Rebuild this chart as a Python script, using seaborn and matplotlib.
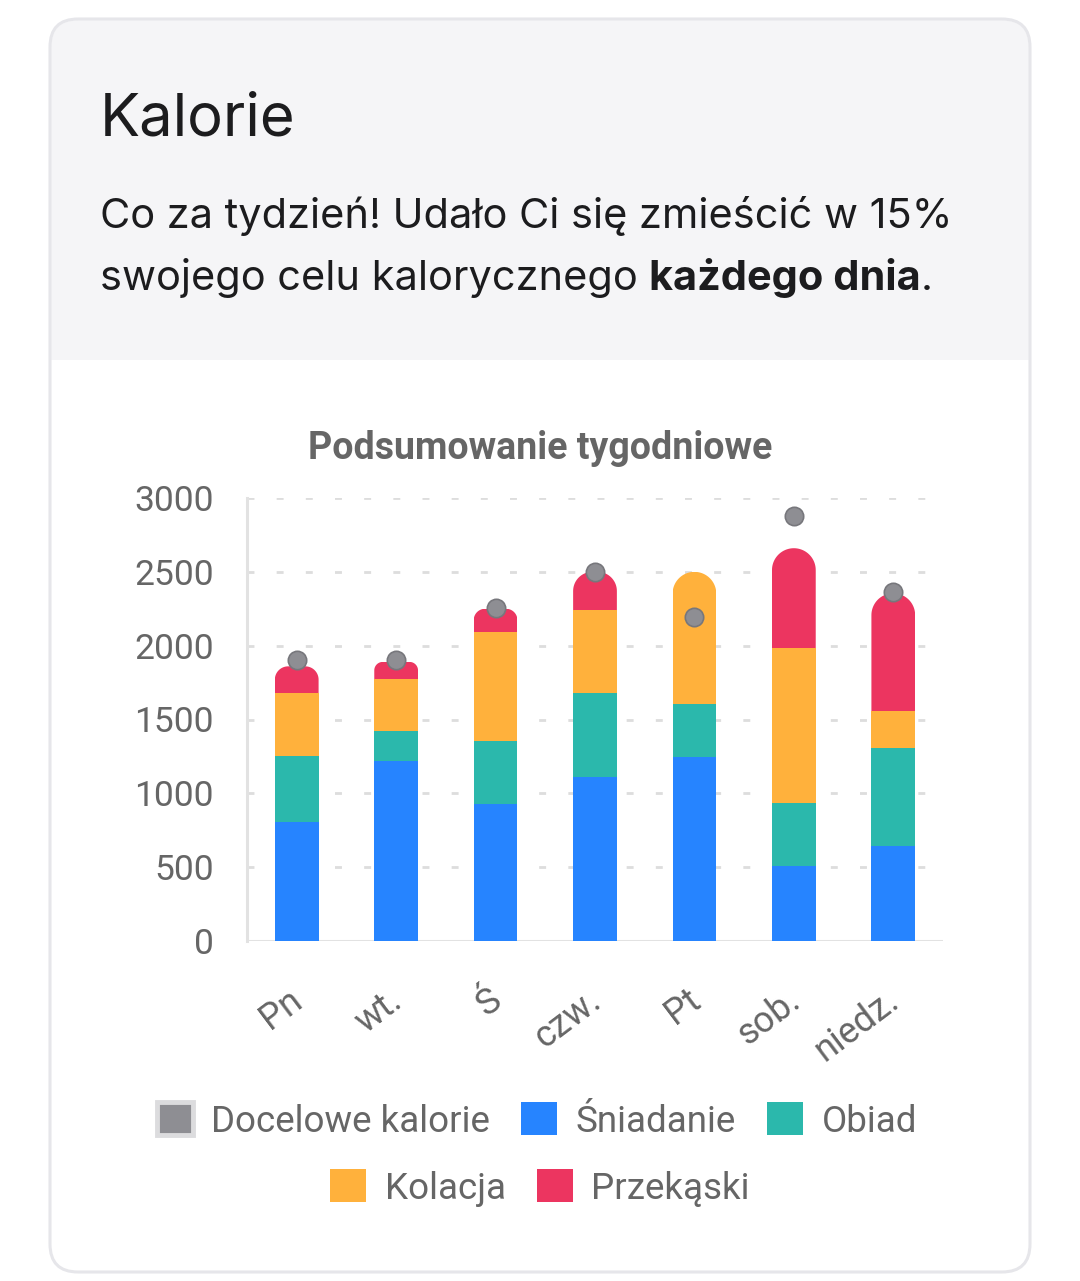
import numpy as np
import matplotlib
matplotlib.use("Agg")
import matplotlib.pyplot as plt
import seaborn as sns
from matplotlib.patches import FancyBboxPatch, Rectangle, Patch
from matplotlib.path import Path
from matplotlib.transforms import IdentityTransform, ScaledTranslation

# ---------------- data ----------------
days = ["Pn", "wt.", "Ś", "czw.", "Pt", "sob.", "niedz."]
sniadanie = [805, 1220, 930, 1110, 1245, 510, 640]
obiad = [450, 200, 425, 570, 360, 425, 670]
kolacja = [425, 355, 740, 560, 895, 1050, 245]
przekaski = [180, 115, 155, 260, 0, 675, 800]
docelowe = [1900, 1900, 2255, 2500, 2195, 2875, 2365]
yticks = [0, 500, 1000, 1500, 2000, 2500, 3000]

series_names = ["Śniadanie", "Obiad", "Kolacja", "Przekąski"]
series_vals = [sniadanie, obiad, kolacja, przekaski]
series_cols = ["#2684FF", "#2BB8AC", "#FFB13C", "#EC3560"]
target_col = "#8E8E93"

W, H = 1080, 1281
DPI = 100

sns.set_theme(style="white")
plt.rcParams["font.family"] = ["Roboto", "DejaVu Sans"]

fig = plt.figure(figsize=(W / DPI, H / DPI), dpi=DPI)
fig.patch.set_facecolor("white")

# ---------------- background card (pixel coordinates) ----------------
bg = fig.add_axes([0, 0, 1, 1], zorder=0)
bg.set_xlim(0, W)
bg.set_ylim(H, 0)
bg.axis("off")

header = FancyBboxPatch((51, 20), 978, 340, boxstyle="round,pad=0,rounding_size=28",
                        facecolor="#F5F5F7", edgecolor="none")
bg.add_patch(header)
bg.add_patch(Rectangle((51, 320), 978, 40, facecolor="#F5F5F7", edgecolor="none"))
card = FancyBboxPatch((50, 19), 980, 1253, boxstyle="round,pad=0,rounding_size=28",
                      facecolor="none", edgecolor="#E6E6EA", linewidth=2.2)
bg.add_patch(card)

hfont = ["Inter", "DejaVu Sans"]
sub_fs = 29.9
bg.text(100, 136, "Kalorie", fontsize=43, family=hfont, color="#1C1C1E", va="baseline", ha="left")
bg.text(100, 228, "Co za tydzień! Udało Ci się zmieścić w 15%", fontsize=sub_fs, family=hfont,
        color="#1C1C1E", va="baseline", ha="left")
renderer = fig.canvas.get_renderer()
t1 = bg.text(100, 290, "swojego celu kalorycznego ", fontsize=sub_fs, family=hfont,
             color="#1C1C1E", va="baseline", ha="left")
bb1 = t1.get_window_extent(renderer)
x2 = 100 + bb1.width
t2 = bg.text(x2, 290, "każdego dnia", fontsize=sub_fs, family=hfont, fontweight="bold",
             color="#1C1C1E", va="baseline", ha="left")
bb2 = t2.get_window_extent(renderer)
bg.text(x2 + bb2.width, 290, ".", fontsize=sub_fs, family=hfont,
        color="#1C1C1E", va="baseline", ha="left")

# chart title
bg.text(540, 459, "Podsumowanie tygodniowe", fontsize=27, fontweight="bold", color="#666666",
        va="baseline", ha="center")

# ---------------- chart ----------------
left, right = 247 / W, 943 / W
bottom, top = (H - 941) / H, (H - 498) / H
ax = fig.add_axes([left, bottom, right - left, top - bottom], zorder=1)
ax.patch.set_alpha(0)

x = np.arange(len(days))
bar_w = 0.44
cum = np.zeros(len(days))
bars_by_series = []
for name, vals, col in zip(series_names, series_vals, series_cols):
    vals = np.array(vals, dtype=float)
    bc = ax.bar(x, vals, bottom=cum, width=bar_w, color=col, linewidth=0, zorder=3, label=name)
    bars_by_series.append((bc, vals))
    cum = cum + vals

ax.set_xlim(-0.5, len(days) - 0.5)
ax.set_ylim(0, 3000)

# target dots
sns.scatterplot(x=x, y=docelowe, ax=ax, s=175, color=target_col, edgecolor="#77777C",
                linewidth=1.2, zorder=6, legend=False)

# grid / spines
ax.set_yticks(yticks)
ax.set_yticklabels([str(v) for v in yticks])
for v in yticks[1:]:
    ax.axhline(v, color="#DDDDDD", linewidth=2, linestyle=(0, (2.5, 8)), zorder=1)
ax.axhline(0, color="#E2E2E2", linewidth=2.2, zorder=2)
for s in ["top", "right", "bottom"]:
    ax.spines[s].set_visible(False)
ax.spines["left"].set_color("#E2E2E2")
ax.spines["left"].set_linewidth(2.2)
ax.tick_params(axis="y", length=17, width=1.6, color="#E2E2E2", pad=7,
               labelsize=25.5, labelcolor="#666666")
ax.tick_params(axis="x", length=0, pad=40, labelsize=26, labelcolor="#666666")
ax.set_xticks(x)
ax.set_xticklabels(days, rotation=37, ha="right", rotation_mode="anchor", va="center")
offset = ScaledTranslation(2 / DPI, 0, fig.dpi_scale_trans)
for lab in ax.get_xticklabels():
    lab.set_transform(lab.get_transform() + offset)
ax.set_xlabel("")
ax.set_ylabel("")
ax.grid(False)

# rounded top for the top-most non-empty segment of each bar
fig.canvas.draw()

def rounded_top_path(x0, y0, x1, y1, r):
    n = 24
    t = np.linspace(0, np.pi / 2, n)
    verts = [(x0, y0 - 1), (x1, y0 - 1)]
    for a in t:
        verts.append((x1 - r + r * np.cos(a), y1 - r + r * np.sin(a)))
    for a in t:
        verts.append((x0 + r + r * np.cos(np.pi / 2 + a), y1 - r + r * np.sin(np.pi / 2 + a)))
    verts.append(verts[0])
    codes = [Path.MOVETO] + [Path.LINETO] * (len(verts) - 2) + [Path.CLOSEPOLY]
    return Path(verts, codes)

for i in range(len(days)):
    top_rect = None
    for bc, vals in bars_by_series:
        if vals[i] > 0:
            top_rect = bc.patches[i]
    bb = top_rect.get_window_extent(renderer)
    r = min(bb.width / 2, bb.height / 2, 22)
    top_rect.set_clip_path(rounded_top_path(bb.x0, bb.y0, bb.x1, bb.y1, r), IdentityTransform())

# legend (two centred rows)
lfs = 26.5
h1 = [Patch(facecolor=target_col, edgecolor="#DCDCDE", linewidth=3.5, label="Docelowe kalorie"),
      Patch(facecolor=series_cols[0], edgecolor="none", label=series_names[0]),
      Patch(facecolor=series_cols[1], edgecolor="none", label=series_names[1])]
h2 = [Patch(facecolor=series_cols[2], edgecolor="none", label=series_names[2]),
      Patch(facecolor=series_cols[3], edgecolor="none", label=series_names[3])]
common = dict(loc="center", frameon=False, fontsize=lfs, handlelength=0.98, handleheight=1.0,
              handletextpad=0.5, columnspacing=0.85, borderpad=0, borderaxespad=0)
leg1 = fig.legend(handles=h1, bbox_to_anchor=(537 / W, 1 - 1121 / H), ncol=3, labelcolor="#666666", **common)
leg2 = fig.legend(handles=h2, bbox_to_anchor=(540 / W, 1 - 1188 / H), ncol=2, labelcolor="#666666", **common)

fig.savefig("out.png", dpi=DPI)
